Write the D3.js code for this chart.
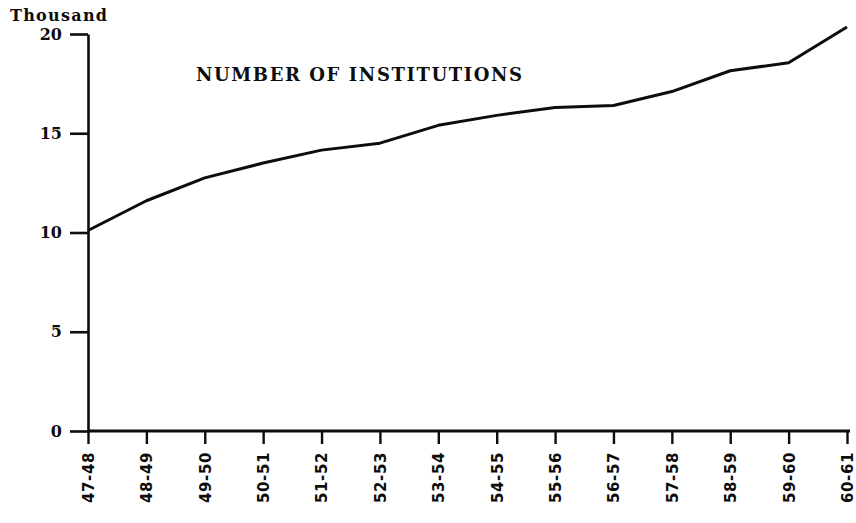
<!DOCTYPE html>
<html>
<head>
<meta charset="utf-8">
<script src="https://cdn.jsdelivr.net/npm/d3@7"></script>
<style>
  html, body { margin: 0; padding: 0; background: #fff; }
  svg { display: block; }
</style>
</head>
<body>
<svg id="chart" width="856" height="523"></svg>
<script>
// School years (1947-48 to 1960-61)
const years = ["47-48", "48-49", "49-50", "50-51", "51-52", "52-53", "53-54",
               "54-55", "55-56", "56-57", "57-58", "58-59", "59-60", "60-61"];
// Number of institutions, in thousands
const institutions = [10.1, 11.6, 12.75, 13.5, 14.15, 14.5, 15.4,
                      15.9, 16.3, 16.4, 17.1, 18.15, 18.55, 20.35];
const yTicks = [0, 5, 10, 15, 20];

const ink = "#0d0d0d";
const svg = d3.select("#chart");

const x = d3.scalePoint().domain(years).range([88, 847]);
const y = d3.scaleLinear().domain([0, 20]).range([431, 34]);

// Y axis
const yAxis = svg.append("g")
  .attr("transform", "translate(88,0)")
  .call(d3.axisLeft(y).tickValues(yTicks).tickSize(18).tickPadding(8).tickSizeOuter(0));
yAxis.select(".domain").attr("stroke", ink).attr("stroke-width", 2.6);
yAxis.selectAll(".tick line").attr("stroke", ink).attr("stroke-width", 2.6);
yAxis.selectAll(".tick text")
  .attr("fill", ink)
  .style("font-family", "'DejaVu Serif', serif")
  .style("font-weight", "bold")
  .style("font-size", "16px");

// X axis
const xAxis = svg.append("g")
  .attr("transform", "translate(0,431)")
  .call(d3.axisBottom(x).tickSize(13).tickPadding(8).tickSizeOuter(0));
xAxis.select(".domain").attr("stroke", ink).attr("stroke-width", 3)
  .attr("d", `M88,0H850`);
xAxis.selectAll(".tick line").attr("stroke", ink).attr("stroke-width", 2.4);
xAxis.selectAll(".tick text")
  .attr("fill", ink)
  .attr("transform", "rotate(-90)")
  .attr("x", -21)
  .attr("y", 0)
  .attr("dy", "0.36em")
  .attr("text-anchor", "end")
  .style("font-family", "'DejaVu Sans', sans-serif")
  .style("font-weight", "bold")
  .style("font-size", "15px")
  .style("letter-spacing", "0.6px");

// Data line
const line = d3.line()
  .x((d, i) => x(years[i]))
  .y(d => y(d));
svg.append("path")
  .datum(institutions)
  .attr("fill", "none")
  .attr("stroke", ink)
  .attr("stroke-width", 3)
  .attr("stroke-linejoin", "round")
  .attr("d", line);

// Unit label
svg.append("text")
  .attr("x", 10).attr("y", 21)
  .attr("fill", ink)
  .attr("textLength", 97)
  .style("font-family", "'DejaVu Serif', serif")
  .style("font-weight", "bold")
  .style("font-size", "16px")
  .text("Thousand");

// Title
svg.append("text")
  .attr("x", 196).attr("y", 81)
  .attr("fill", ink)
  .attr("textLength", 326)
  .style("font-family", "'DejaVu Serif', serif")
  .style("font-weight", "bold")
  .style("font-size", "18px")
  .text("NUMBER OF INSTITUTIONS");
</script>
</body>
</html>
